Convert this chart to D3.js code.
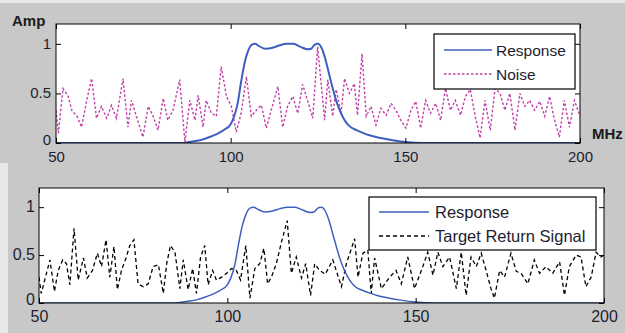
<!DOCTYPE html>
<html>
<head>
<meta charset="utf-8">
<script src="https://cdn.jsdelivr.net/npm/d3@7"></script>
<style>
  html, body { margin: 0; padding: 0; background: #e8e8e8; }
  svg { display: block; font-family: "Liberation Sans", Arial, sans-serif; }
</style>
</head>
<body>
<svg id="chart" width="625" height="333"></svg>
<script>
// band-pass response (MHz, amplitude)
const respFreq = [50, 86, 88, 90, 92, 94, 96, 98, 100, 101, 102, 103, 104, 105, 106, 107, 108, 110, 112, 114, 116, 118, 120, 122, 123, 124, 125, 126, 127, 128, 129, 130, 131, 132, 133, 134, 136, 138, 140, 143, 146, 150, 155, 200];
const respAmp = [0, 0, 0.01, 0.02, 0.035, 0.06, 0.09, 0.13, 0.19, 0.27, 0.4, 0.62, 0.81, 0.93, 0.99, 1.0, 0.98, 0.95, 0.96, 0.985, 1.0, 1.0, 0.97, 0.945, 0.95, 0.99, 1.0, 0.96, 0.86, 0.72, 0.58, 0.45, 0.35, 0.27, 0.21, 0.17, 0.13, 0.1, 0.075, 0.05, 0.03, 0.01, 0, 0];

// top panel noise
const noiseFreq = [50, 50.7, 52, 53.5, 54.5, 56, 57.3, 58.8, 60.2, 61.6, 63, 64.5, 65.9, 67.3, 69.2, 70.6, 71.6, 73, 74.9, 76.4, 77.8, 79.2, 80.7, 82, 83.5, 85.4, 86.9, 88.3, 89.8, 90.7, 92.1, 93, 94.5, 95.9, 97.3, 98.8, 100.2, 101.6, 103, 104.5, 105.9, 107.3, 108.8, 110.2, 111.6, 113.5, 114.9, 116.3, 117.8, 119.2, 120.6, 122, 123.5, 124.9, 126.9, 127.8, 129.2, 130.2, 131.6, 132.6, 134, 135.4, 136.3, 137.6, 138.8, 140.2, 141.6, 143, 144.5, 145.9, 147.3, 148.7, 150.2, 151.6, 153, 154.4, 155.8, 157.2, 158.7, 160.1, 161.5, 162.9, 164.3, 165.8, 167.2, 168.6, 170, 171.4, 172.8, 174.3, 175.7, 177.1, 178.5, 179.9, 181.4, 182.8, 184.2, 185.6, 187, 188.5, 189.9, 191.3, 192.7, 194.1, 195.5, 197, 198.4, 200];
const noiseAmp = [0.33, 0.1, 0.55, 0.47, 0.33, 0.27, 0.16, 0.43, 0.65, 0.25, 0.37, 0.25, 0.38, 0.25, 0.65, 0.16, 0.43, 0.27, 0.06, 0.37, 0.27, 0.13, 0.45, 0.23, 0.33, 0.64, 0.01, 0.43, 0.23, 0.48, 0.16, 0.43, 0.3, 0.27, 0.77, 0.47, 0.37, 0.11, 0.3, 0.67, 0.27, 0.33, 0.38, 0.15, 0.33, 0.57, 0.16, 0.37, 0.47, 0.3, 0.59, 0.43, 0.25, 0.97, 0.23, 0.64, 0.27, 0.54, 0.3, 0.65, 0.5, 0.6, 0.28, 0.9, 0.27, 0.37, 0.18, 0.35, 0.28, 0.4, 0.33, 0.23, 0.15, 0.33, 0.42, 0.15, 0.43, 0.3, 0.4, 0.23, 0.55, 0.33, 0.43, 0.28, 0.47, 0.54, 0.27, 0.05, 0.43, 0.13, 0.55, 0.5, 0.33, 0.5, 0.13, 0.5, 0.37, 0.43, 0.33, 0.42, 0.27, 0.47, 0.23, 0.06, 0.43, 0.16, 0.43, 0.27];

// bottom panel target return signal
const signalFreq = [50, 50.6, 52.9, 54.1, 55.1, 56.3, 57.3, 58.2, 59.3, 60.4, 61.8, 62.8, 64.2, 65.5, 66.6, 67.8, 68.8, 69.9, 70.8, 71.9, 73.1, 74.1, 75.2, 76.3, 77.7, 79, 80.3, 81.7, 83, 83.9, 84.9, 86.1, 87.4, 88.3, 89.6, 90.8, 91.8, 92.9, 94, 94.9, 96.1, 97.1, 98.5, 99.8, 101.1, 102.4, 103.5, 104.9, 106, 107.3, 108.6, 109.7, 110.7, 111.7, 113, 114.4, 115.9, 117, 118.3, 119.7, 120.8, 122.1, 123.2, 124.5, 126, 128, 130.3, 131.6, 133.8, 134.7, 136, 137.3, 138.2, 139.1, 140.9, 143.1, 144.8, 146.2, 147.9, 149.7, 151.9, 153.2, 154.6, 155.9, 157.2, 159, 160.8, 162.1, 163.4, 164.7, 166.1, 167.4, 168.7, 170, 170.9, 172.3, 173.6, 175.3, 176.7, 178, 179.8, 181.5, 182.9, 184.6, 186.4, 188.2, 189.5, 190.8, 192.6, 193.9, 195.2, 196.6, 197.9, 199.2, 200];
const signalAmp = [0.27, 0.1, 0.45, 0.12, 0.34, 0.45, 0.41, 0.19, 0.78, 0.24, 0.47, 0.26, 0.34, 0.52, 0.38, 0.66, 0.27, 0.59, 0.14, 0.34, 0.47, 0.6, 0.66, 0.2, 0.17, 0.2, 0.38, 0.4, 0.1, 0.41, 0.6, 0.53, 0.15, 0.45, 0.14, 0.36, 0.1, 0.48, 0.6, 0.19, 0.34, 0.24, 0.27, 0.31, 0.36, 0.34, 0.24, 0.6, 0.05, 0.36, 0.41, 0.57, 0.2, 0.27, 0.41, 0.64, 0.86, 0.31, 0.48, 0.26, 0.41, 0.08, 0.41, 0.34, 0.3, 0.45, 0.17, 0.41, 0.67, 0.27, 0.52, 0.55, 0.1, 0.47, 0.15, 0.27, 0.34, 0.2, 0.48, 0.15, 0.38, 0.53, 0.29, 0.53, 0.38, 0.48, 0.15, 0.53, 0.08, 0.48, 0.38, 0.52, 0.34, 0.15, 0.05, 0.34, 0.27, 0.52, 0.33, 0.31, 0.2, 0.45, 0.31, 0.38, 0.31, 0.43, 0.08, 0.38, 0.5, 0.48, 0.17, 0.27, 0.53, 0.48, 0.5];

const xTicks = [50, 100, 150, 200];
const yTicks = [0, 0.5, 1];
const yTickLabels = ['0', '0.5', '1'];

const svg = d3.select('#chart');

// figure backgrounds (two stacked screenshots)
svg.append('rect').attr('x', 0).attr('y', 3).attr('width', 625).attr('height', 160).attr('fill', '#c8c8c8');
svg.append('rect').attr('x', 8).attr('y', 163).attr('width', 617).attr('height', 170).attr('fill', '#c8c8c8');

function drawPanel(p) {
    const x = d3.scaleLinear().domain([50, 200]).range([p.left, p.right]);
    const y = d3.scaleLinear().domain([0, 1.2]).range([p.bottom, p.top]);
    const g = svg.append('g');

    g.append('rect')
        .attr('x', p.left).attr('y', p.top)
        .attr('width', p.right - p.left).attr('height', p.bottom - p.top)
        .attr('fill', '#fff');

    const clipId = 'clip' + p.id;
    g.append('clipPath').attr('id', clipId)
        .append('rect')
        .attr('x', p.left).attr('y', p.top - 2)
        .attr('width', p.right - p.left).attr('height', p.bottom - p.top + 2);

    const plot = g.append('g').attr('clip-path', `url(#${clipId})`);

    plot.append('path')
        .datum(p.sigF.map((f, i) => [f, p.sigA[i]]))
        .attr('fill', 'none')
        .attr('stroke', p.sigColor)
        .attr('stroke-width', p.sigWidth)
        .attr('stroke-dasharray', p.sigDash)
        .attr('d', d3.line().x(d => x(d[0])).y(d => y(d[1])));

    plot.append('path')
        .datum(respFreq.map((f, i) => [f, respAmp[i]]))
        .attr('fill', 'none')
        .attr('stroke', '#3f5fc0')
        .attr('stroke-width', p.respWidth)
        .attr('d', d3.line().curve(d3.curveMonotoneX).x(d => x(d[0])).y(d => y(d[1])));

    // axes, matlab box style with inward ticks
    const tl = 5;
    g.append('g').attr('transform', `translate(0,${p.bottom})`)
        .call(d3.axisBottom(x).tickValues(xTicks).tickSizeInner(-tl).tickSizeOuter(0).tickPadding(p.xPad))
        .call(a => a.select('.domain').remove());
    g.append('g').attr('transform', `translate(0,${p.top})`)
        .call(d3.axisTop(x).tickValues(xTicks).tickSizeInner(-tl).tickSizeOuter(0).tickFormat(''))
        .call(a => a.select('.domain').remove());
    g.append('g').attr('transform', `translate(${p.left},0)`)
        .call(d3.axisLeft(y).tickValues(yTicks).tickSizeInner(-tl).tickSizeOuter(0).tickPadding(p.yPad)
            .tickFormat((d, i) => yTickLabels[i]))
        .call(a => a.select('.domain').remove())
        .call(a => a.selectAll('.tick text').attr('dy', '0.3em'))
        .call(a => a.selectAll('.tick').filter(d => d === 0).select('text').attr('dy', '0.1em'));
    g.append('g').attr('transform', `translate(${p.right},0)`)
        .call(d3.axisRight(y).tickValues(yTicks).tickSizeInner(-tl).tickSizeOuter(0).tickFormat(''))
        .call(a => a.select('.domain').remove());

    g.selectAll('.tick text')
        .attr('font-family', '"Liberation Sans", Arial, sans-serif')
        .attr('font-size', p.fontSize)
        .attr('fill', '#1e1e30');
    g.selectAll('.tick line').attr('stroke', '#000');

    g.append('rect')
        .attr('x', p.left).attr('y', p.top)
        .attr('width', p.right - p.left).attr('height', p.bottom - p.top)
        .attr('fill', 'none').attr('stroke', '#000').attr('stroke-width', 1);

    // legend
    const lg = g.append('g');
    lg.append('rect')
        .attr('x', p.legend.x).attr('y', p.legend.y)
        .attr('width', p.legend.w).attr('height', p.legend.h)
        .attr('fill', '#fff').attr('stroke', '#000').attr('stroke-width', 1.2);
    const items = [
        { label: 'Response', color: '#3f5fc0', dash: null, width: 1.5 },
        { label: p.sigLabel, color: p.sigColor, dash: p.sigDash, width: p.sigWidth }
    ];
    items.forEach((it, i) => {
        const yy = p.legend.y + p.legend.row0 + i * p.legend.rowStep;
        lg.append('line')
            .attr('x1', p.legend.x + p.legend.lx0).attr('x2', p.legend.x + p.legend.lx1)
            .attr('y1', yy).attr('y2', yy)
            .attr('stroke', it.color).attr('stroke-width', it.width)
            .attr('stroke-dasharray', it.dash);
        lg.append('text')
            .attr('x', p.legend.x + p.legend.tx).attr('y', yy)
            .attr('dy', '0.36em')
            .attr('font-size', p.fontSize + 0.5)
            .attr('fill', '#1e1e30')
            .text(it.label);
    });
}

drawPanel({
    id: 'top', left: 56, right: 580, top: 24, bottom: 143,
    sigF: noiseFreq, sigA: noiseAmp, sigColor: '#c040a8', sigDash: '2.5,2', sigWidth: 1.4,
    sigLabel: 'Noise', respWidth: 2, fontSize: 15, xPad: 8, yPad: 5,
    legend: { x: 434, y: 34, w: 141, h: 55, row0: 16, rowStep: 24, lx0: 10, lx1: 58, tx: 62 }
});

drawPanel({
    id: 'bot', left: 39, right: 604, top: 188, bottom: 303,
    sigF: signalFreq, sigA: signalAmp, sigColor: '#000', sigDash: '4,3', sigWidth: 1.3,
    sigLabel: 'Target Return Signal', respWidth: 1.5, fontSize: 16, xPad: 8, yPad: 4,
    legend: { x: 369, y: 197, w: 227, h: 53, row0: 15, rowStep: 24, lx0: 10, lx1: 60, tx: 66 }
});

// axis labels
svg.append('text').attr('x', 12).attr('y', 26)
    .attr('font-size', 15).attr('font-weight', 'bold').attr('fill', '#1a1a1a')
    .text('Amp');
svg.append('text').attr('x', 592).attr('y', 139)
    .attr('font-size', 15).attr('font-weight', 'bold').attr('fill', '#1a1a1a')
    .text('MHz');
</script>
</body>
</html>
